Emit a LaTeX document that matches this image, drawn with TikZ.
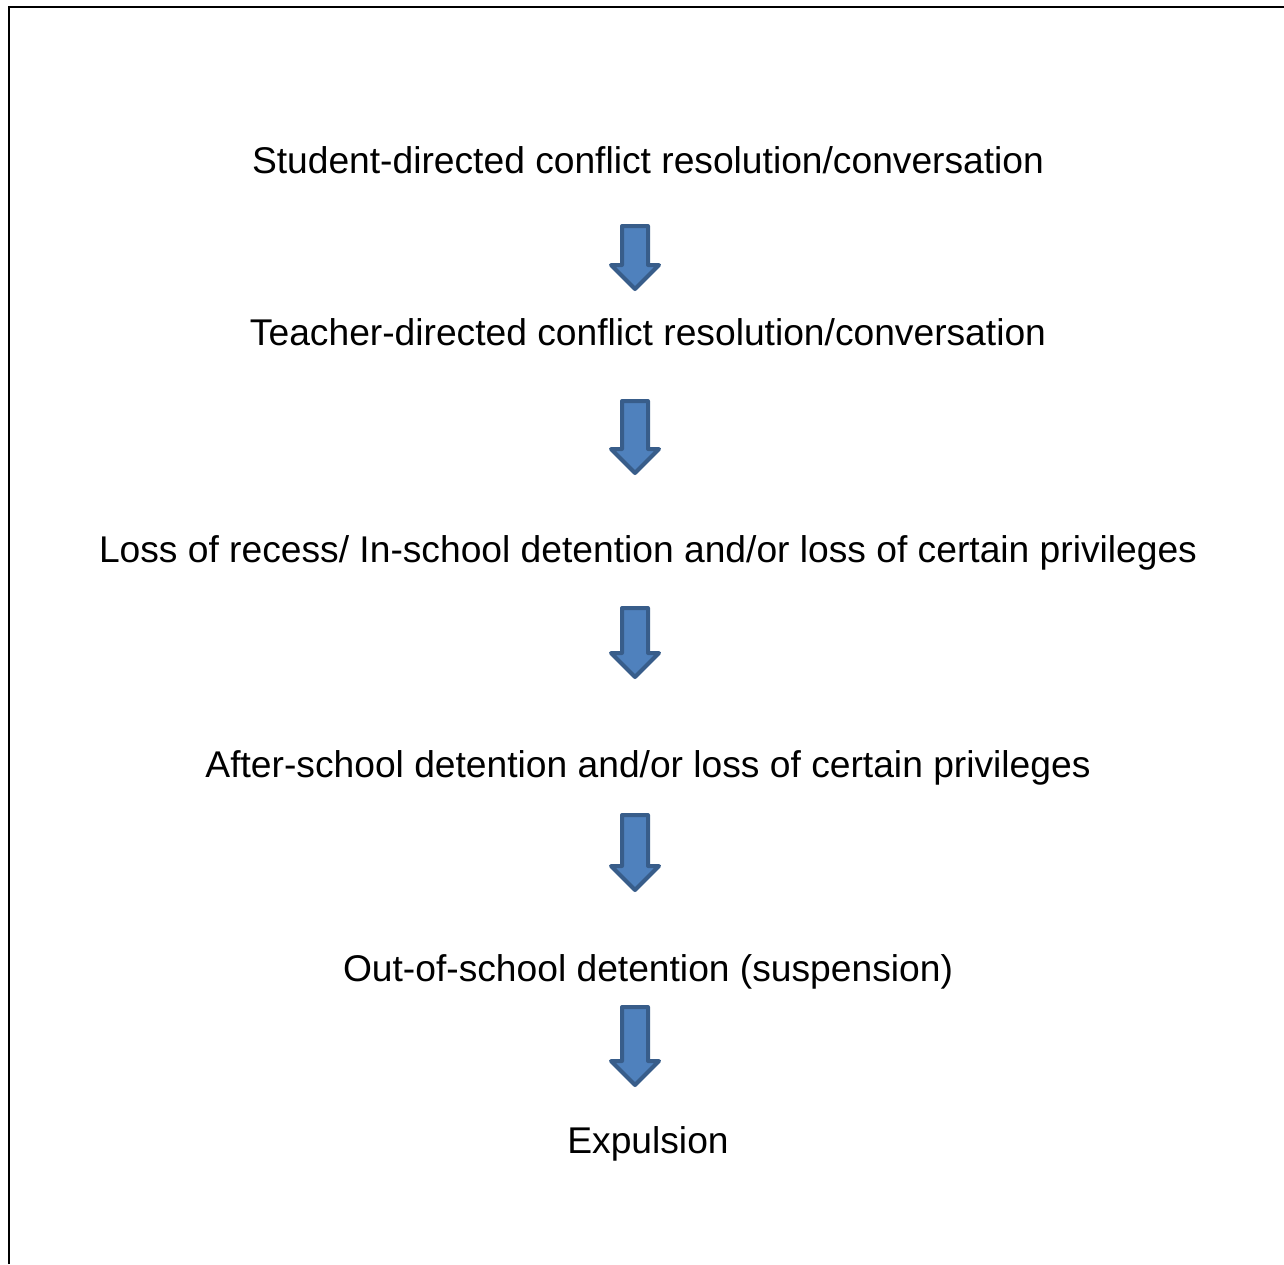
\documentclass[tikz,border=0pt]{standalone}
\usepackage{fontspec}
\setmainfont{Liberation Sans}
\usepackage{tikz}
\definecolor{arrfill}{RGB}{79,129,189}
\definecolor{arrdraw}{RGB}{56,93,138}
\tikzset{
  level/.style={font=\fontsize{18.6}{22}\selectfont, anchor=base, inner sep=0pt},
  blockarrow/.style={fill=arrfill, draw=arrdraw, line width=2pt, line join=round},
}
% block arrow pointing down: #1 = top, #2 = tip (in px)
\newcommand{\downblock}[2]{%
  \draw[blockarrow] (622,#1+2) -- (648,#1+2) -- (648,#2-27) -- (659,#2-27)
    -- (635,#2-3) -- (611,#2-27) -- (622,#2-27) -- cycle;}

\begin{document}
\begin{tikzpicture}[x=0.5pt, y=-0.5pt]
	\useasboundingbox (0,0) rectangle (1284,1264);
	% Frame
	\draw[line width=1pt] (9,1264) -- (9,7) -- (1284,7);
	% Define nodes
	\node[level] (student) at (648,173)  {Student-directed conflict resolution/conversation};
	\node[level] (teacher) at (648,345)  {Teacher-directed conflict resolution/conversation};
	\node[level] (recess)  at (648,562)  {Loss of recess/ In-school detention and/or loss of certain privileges};
	\node[level] (after)   at (648,777)  {After-school detention and/or loss of certain privileges};
	\node[level] (outof)   at (648,981)  {Out-of-school detention (suspension)};
	\node[level] (expel)   at (648,1153) {Expulsion};
	% Arrows
	\downblock{224}{292}
	\downblock{399}{476}
	\downblock{606}{680}
	\downblock{813}{893}
	\downblock{1005}{1088}
\end{tikzpicture}
\end{document}
